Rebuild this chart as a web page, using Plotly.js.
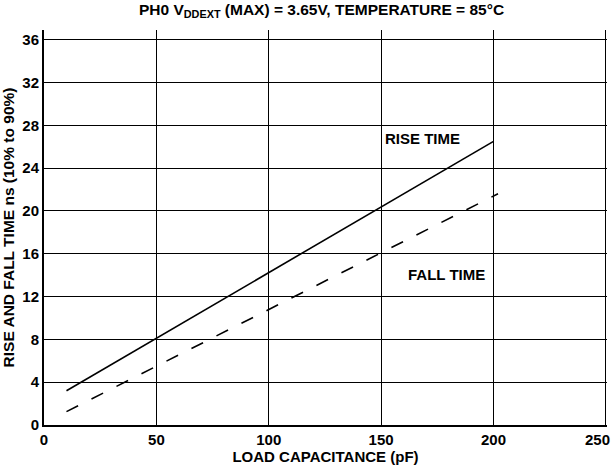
<!DOCTYPE html>
<html>
<head>
<meta charset="utf-8">
<script src="https://cdn.plot.ly/plotly-3.0.1.min.js"></script>
<style>html,body{margin:0;padding:0;background:#fff;}#chart{width:616px;height:470px;}</style>
</head>
<body>
<div id="chart"></div>
<script>
// Data
const capacitance = [10, 200];
const riseTime = [3.2, 26.5];
const fallCapacitance = [10, 202];
const fallTime = [1.25, 21.6];
const xTicks = [0, 50, 100, 150, 200, 250];
const yTicks = [0, 4, 8, 12, 16, 20, 24, 28, 32, 36];

const FONT = "'Liberation Sans', Arial, Helvetica, sans-serif";
const bold = (s) => ({family: FONT, size: s, color: '#000', weight: 'bold'});

const traces = [
  {x: capacitance, y: riseTime, mode: 'lines', name: 'RISE TIME',
   line: {color: '#000', width: 1.6}, showlegend: false, hoverinfo: 'skip'},
  {x: fallCapacitance, y: fallTime, mode: 'lines', name: 'FALL TIME',
   line: {color: '#000', width: 1.6, dash: '13px,15px'}, showlegend: false, hoverinfo: 'skip'}
];

// the last x label sits inside the page edge, as in the reference, so it is drawn as an annotation
const lastX = xTicks[xTicks.length - 1];
const xLabels = xTicks.map((v, i) => i === xTicks.length - 1 ? '' : String(v));

const layout = {
  width: 616, height: 470,
  margin: {l: 44, r: 9, t: 30, b: 45},
  paper_bgcolor: '#fff', plot_bgcolor: '#fff',
  font: bold(15),
  title: {text: 'PH0 V<sub>DDEXT</sub> (MAX) = 3.65V, TEMPERATURE = 85°C',
          x: 0.522, xanchor: 'center', y: 0.992, yanchor: 'top',
          font: bold(15.5)},
  xaxis: {
    range: [0, 250.5], tickvals: xTicks, ticktext: xLabels,
    showgrid: true, gridcolor: '#000', gridwidth: 1,
    showline: true, linecolor: '#000', linewidth: 2,
    zeroline: false, ticks: '', ticklen: 0,
    tickfont: bold(15),
    title: {text: 'LOAD CAPACITANCE (pF)', standoff: 4, font: bold(15)},
    fixedrange: true
  },
  yaxis: {
    range: [0, 36.9], tickvals: yTicks, ticktext: yTicks.map(String),
    showgrid: true, gridcolor: '#000', gridwidth: 1,
    showline: true, linecolor: '#000', linewidth: 2,
    zeroline: false, ticks: '', ticklen: 0,
    tickfont: bold(15),
    title: {text: 'RISE AND FALL TIME ns (10% to 90%)', standoff: 4, font: bold(15.5)},
    fixedrange: true
  },
  annotations: [
    {x: 168.5, y: 26.8, xref: 'x', yref: 'y', text: 'RISE TIME', showarrow: false, font: bold(15)},
    {x: 179, y: 14.1, xref: 'x', yref: 'y', text: 'FALL TIME', showarrow: false, font: bold(15)},
    {x: lastX, y: 0, xref: 'x', yref: 'y', text: String(lastX), showarrow: false,
     xanchor: 'center', yanchor: 'middle', xshift: -8.5, yshift: -14, font: bold(15)}
  ]
};

Plotly.newPlot('chart', traces, layout, {displayModeBar: false, staticPlot: true});
</script>
</body>
</html>
